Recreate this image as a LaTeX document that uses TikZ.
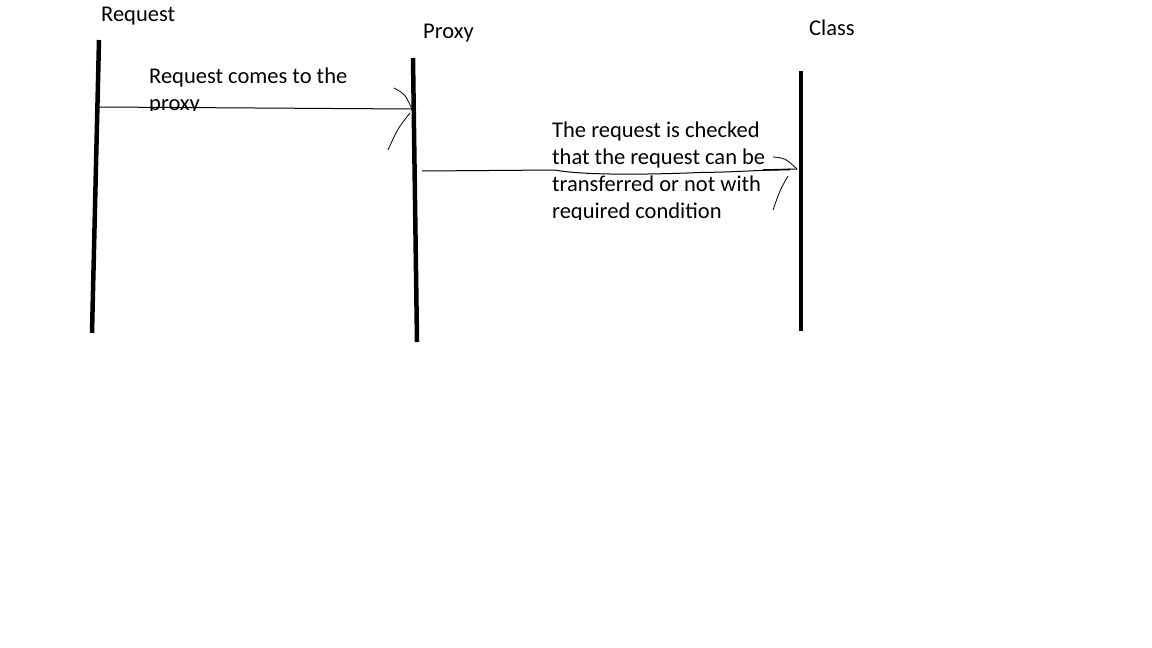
\documentclass[tikz,border=0pt]{standalone}
\usepackage{fontspec}
\setmainfont{Carlito}
\usetikzlibrary{arrows.meta, calc, positioning}

\begin{document}
\begin{tikzpicture}[x=1pt, y=-1pt,
    lifeline/.style={line width=4.5pt},
    msg/.style={line width=1pt},
    barb/.style={line width=0.8pt},
    lbl/.style={font=\fontsize{22.5}{27}\selectfont, inner sep=0pt, align=left}]
    \useasboundingbox (0,0) rectangle (1152,648);

    % Lifelines
    \coordinate (reqTop) at (99,40);
    \coordinate (reqBot) at (92,333);
    \coordinate (proxyTop) at (413,58);
    \coordinate (proxyBot) at (417,342);
    \coordinate (classTop) at (801,71);
    \coordinate (classBot) at (801,331);
    \draw[lifeline] (reqTop) -- (reqBot);
    \draw[lifeline] (proxyTop) -- (proxyBot);
    \draw[lifeline] (classTop) -- (classBot);

    % Titles
    \node[lbl, anchor=base west] (reqTitle) at (101,21.5) {Request};
    \node[lbl, anchor=base west] (proxyTitle) at (423,38.5) {Proxy};
    \node[lbl, anchor=base west] (classTitle) at (809,35.5) {Class};

    % Request -> Proxy
    \coordinate (reqOut) at (99,107);
    \coordinate (proxyIn) at (412,109);
    \begin{scope}
        \clip (140,55) rectangle (370,110);
        \node[lbl, anchor=north west] (msgA) at (149,68) {Request comes to the\\proxy};
    \end{scope}
    \draw[msg] (reqOut) -- (proxyIn);
    \draw[barb] (proxyIn) .. controls (405,94) .. (394,88);
    \draw[barb] (proxyIn) ++(-2,4) .. controls (398,128) .. (388,150);

    % Proxy -> Class
    \coordinate (proxyOut) at (422,171);
    \coordinate (classIn) at (797,169);
    \begin{scope}
        \clip (545,110) rectangle (790,219);
        \node[lbl, anchor=north west] (msgB) at (552,122) {The request is checked\\that the request can be\\transferred or not with\\required condition};
    \end{scope}
    \draw[msg] (proxyOut) -- (555,170) .. controls (580,175) and (640,175) .. (700,172.5)
        .. controls (740,172) and (760,170) .. (classIn);
    \draw[line width=1.6pt] (763,170) -- (790,169.5);
    \draw[barb] (classIn) .. controls (785,158) .. (773,157);
    \draw[barb] (classIn) ++(-9,7) .. controls (780,190) .. (773,210);
\end{tikzpicture}
\end{document}
